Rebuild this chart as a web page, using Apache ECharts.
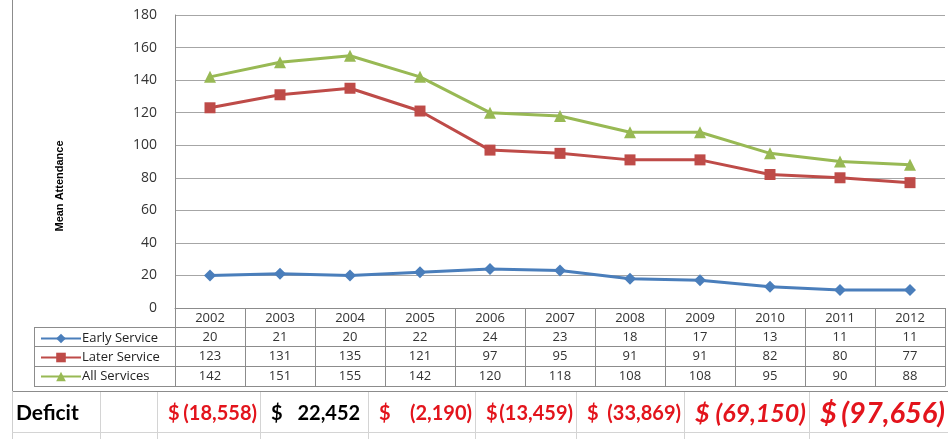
<!DOCTYPE html>
<html>
<head>
<meta charset="utf-8">
<script src="https://cdn.jsdelivr.net/npm/echarts@6/dist/echarts.min.js"></script>
<style>
  html, body { margin: 0; padding: 0; background: #fff; }
  #chart { width: 948px; height: 439px; }
</style>
</head>
<body>
<div id="chart"></div>
<script>
// data
const years = ['2002', '2003', '2004', '2005', '2006', '2007', '2008', '2009', '2010', '2011', '2012']
const earlyService = [20, 21, 20, 22, 24, 23, 18, 17, 13, 11, 11]
const laterService = [123, 131, 135, 121, 97, 95, 91, 91, 82, 80, 77]
const allServices = [142, 151, 155, 142, 120, 118, 108, 108, 95, 90, 88]
const deficits = [-18558, 22452, -2190, -13459, -33869, -69150, -97656]
const yTicks = [0, 20, 40, 60, 80, 100, 120, 140, 160, 180]

const chart = echarts.init(document.getElementById('chart'))

const tableFont = { fontFamily: 'Open Sans', fontSize: 13, color: '#333' }
const lineGrey = '#8c8c8c'

// one bottom axis per table row, the ticks draw the cell walls
function rowAxis(offset, values, tickLen) {
  return {
    type: 'category',
    data: years,
    position: 'bottom',
    offset: offset,
    boundaryGap: true,
    axisLine: { show: true, lineStyle: { color: lineGrey, width: 1 } },
    axisTick: { show: tickLen > 0, interval: 0, length: tickLen, lineStyle: { color: lineGrey } },
    axisLabel: {
      show: !!values,
      interval: 0,
      margin: 4,
      ...tableFont,
      formatter: (v, i) => (values ? String(values[i]) : ''),
    },
  }
}

// deficit row cells: [left, right]
const deficitCells = [[157, 260], [260, 368], [368, 475], [475, 576], [576, 684], [684, 809], [809, 948]]
const deficitSize = [20, 20, 20, 20, 20, 25, 29]

function fmtMoney(n) {
  const s = Math.abs(n).toLocaleString('en-US')
  return n < 0 ? '(' + s + ')' : s + ' '
}

const graphics = []
// outer frame
graphics.push({ type: 'line', shape: { x1: 12.5, y1: 0, x2: 12.5, y2: 391 }, style: { stroke: lineGrey, lineWidth: 1 } })
graphics.push({ type: 'line', shape: { x1: 12, y1: 391.5, x2: 948, y2: 391.5 }, style: { stroke: lineGrey, lineWidth: 1 } })
// legend cells
;[327, 346, 366, 386].forEach((y) => {
  graphics.push({ type: 'line', shape: { x1: 34, y1: y + 0.5, x2: 175, y2: y + 0.5 }, style: { stroke: lineGrey, lineWidth: 1 } })
})
graphics.push({ type: 'line', shape: { x1: 34.5, y1: 327, x2: 34.5, y2: 386 }, style: { stroke: lineGrey, lineWidth: 1 } })
// spreadsheet grid below
graphics.push({ type: 'line', shape: { x1: 12.5, y1: 391, x2: 12.5, y2: 439 }, style: { stroke: '#cfcfcf', lineWidth: 1 } })
graphics.push({ type: 'line', shape: { x1: 12, y1: 432.5, x2: 948, y2: 432.5 }, style: { stroke: '#d4d4d4', lineWidth: 1 } })
;[100, 157, 260, 368, 475, 576, 684, 809].forEach((x) => {
  graphics.push({ type: 'line', shape: { x1: x + 0.5, y1: 392, x2: x + 0.5, y2: 439 }, style: { stroke: '#d4d4d4', lineWidth: 1 } })
})
graphics.push({
  type: 'text', x: 16, y: 413,
  style: { text: 'Deficit', font: 'bold 21px Lato', fill: '#000', textVerticalAlign: 'middle' },
})
deficits.forEach((d, i) => {
  const [l, r] = deficitCells[i]
  const size = deficitSize[i]
  const italic = size > 20 ? 'italic ' : ''
  const color = d < 0 ? '#e3141c' : '#000'
  const font = italic + 'bold ' + size + 'px Lato'
  graphics.push({
    type: 'text', x: l + 11, y: 414,
    style: { text: '$', font: font, fill: color, textVerticalAlign: 'middle', textAlign: 'left' },
  })
  graphics.push({
    type: 'text', x: r - 3, y: 414,
    style: { text: fmtMoney(d), font: font, fill: color, textVerticalAlign: 'middle', textAlign: 'right' },
  })
})
// y axis title
graphics.push({
  type: 'text', x: 60, y: 186, rotation: Math.PI / 2,
  style: { text: 'Mean Attendance', font: 'bold 11px "Liberation Sans"', fill: '#000', textAlign: 'center', textVerticalAlign: 'middle' },
})

chart.setOption({
  animation: false,
  backgroundColor: '#fff',
  grid: { left: 175, right: 3, top: 15, bottom: 131 },
  legend: {
    orient: 'vertical',
    left: 35,
    top: 327,
    itemWidth: 40,
    itemHeight: 12,
    itemGap: 6,
    textStyle: { fontFamily: 'Open Sans', fontSize: 13, color: '#222', padding: [0, 0, 0, -4] },
    data: ['Early Service', 'Later Service', 'All Services'],
  },
  xAxis: [
    rowAxis(0, years, 19),
    rowAxis(19, earlyService, 19),
    rowAxis(38, laterService, 20),
    rowAxis(58, allServices, 20),
    rowAxis(78, null, 0),
  ],
  yAxis: {
    type: 'value',
    min: yTicks[0],
    max: yTicks[yTicks.length - 1],
    interval: 20,
    axisLine: { show: true, lineStyle: { color: lineGrey } },
    axisTick: { show: false },
    axisLabel: { margin: 18, fontFamily: 'Open Sans', fontSize: 14, color: '#333' },
    splitLine: { lineStyle: { color: '#a6a6a6', width: 1 } },
  },
  series: [
    {
      name: 'Early Service', type: 'line', data: earlyService,
      symbol: 'diamond', symbolSize: 12,
      color: '#4a7ebb', lineStyle: { width: 3 },
    },
    {
      name: 'Later Service', type: 'line', data: laterService,
      symbol: 'rect', symbolSize: 11,
      color: '#be4b48', lineStyle: { width: 3 },
    },
    {
      name: 'All Services', type: 'line', data: allServices,
      symbol: 'triangle', symbolSize: 12,
      color: '#98b954', lineStyle: { width: 3 },
    },
  ],
  graphic: graphics,
})
</script>
</body>
</html>
